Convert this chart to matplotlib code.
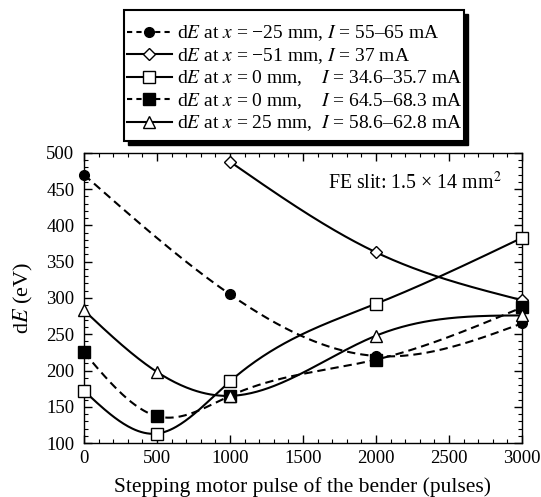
import numpy as np
import matplotlib
matplotlib.use("Agg")
import matplotlib.pyplot as plt
from matplotlib.ticker import MultipleLocator
from matplotlib.patches import Rectangle

plt.rcParams['font.family'] = ['Liberation Serif', 'DejaVu Serif']
plt.rcParams['mathtext.fontset'] = 'stix'

# data
x_m25 = [0, 1000, 2000, 3000]
y_m25 = [470, 305, 220, 265]
x_m51 = [1000, 2000, 3000]
y_m51 = [488, 363, 297]
x_0a = [0, 500, 1000, 2000, 3000]
y_0a = [172, 113, 185, 292, 383]
x_0b = [0, 500, 1000, 2000, 3000]
y_0b = [225, 137, 165, 215, 287]
x_25 = [0, 500, 1000, 2000, 3000]
y_25 = [283, 198, 165, 248, 276]

labels = [
    r'd$E$ at $x$ = −25 mm, $I$ = 55–65 mA',
    r'd$E$ at $x$ = −51 mm, $I$ = 37 mA',
    r'd$E$ at $x$ = 0 mm,    $I$ = 34.6–35.7 mA',
    r'd$E$ at $x$ = 0 mm,    $I$ = 64.5–68.3 mA',
    r'd$E$ at $x$ = 25 mm,  $I$ = 58.6–62.8 mA',
]


def natural_spline(x, y, n=300):
    x = np.asarray(x, float)
    y = np.asarray(y, float)
    m = len(x)
    h = np.diff(x)
    A = np.zeros((m, m))
    b = np.zeros(m)
    A[0, 0] = 1
    A[-1, -1] = 1
    for i in range(1, m - 1):
        A[i, i - 1] = h[i - 1]
        A[i, i] = 2 * (h[i - 1] + h[i])
        A[i, i + 1] = h[i]
        b[i] = 6 * ((y[i + 1] - y[i]) / h[i] - (y[i] - y[i - 1]) / h[i - 1])
    M = np.linalg.solve(A, b)
    xs = np.linspace(x[0], x[-1], n)
    ys = np.empty_like(xs)
    for k, xv in enumerate(xs):
        i = min(np.searchsorted(x, xv, side='right') - 1, m - 2)
        t1 = x[i + 1] - xv
        t0 = xv - x[i]
        ys[k] = (M[i] * t1 ** 3 / (6 * h[i]) + M[i + 1] * t0 ** 3 / (6 * h[i])
                 + (y[i] / h[i] - M[i] * h[i] / 6) * t1
                 + (y[i + 1] / h[i] - M[i + 1] * h[i] / 6) * t0)
    return xs, ys


W, H = 541, 497
fig = plt.figure(figsize=(W / 100, H / 100), dpi=100)
ax = fig.add_axes([84 / W, 1 - 443 / H, (522 - 84) / W, (443 - 153) / H])

series = [
    (x_m25, y_m25, '--', 'o', 'black', 7),
    (x_m51, y_m51, '-', 'D', 'white', 6),
    (x_0a, y_0a, '-', 's', 'white', 8),
    (x_0b, y_0b, '--', 's', 'black', 8),
    (x_25, y_25, '-', '^', 'white', 8),
]

handles = []
for (xs, ys, ls, mk, fc, ms), lab in zip(series, labels):
    sx, sy = natural_spline(xs, ys)
    line, = ax.plot(sx, sy, ls='-', color='black', lw=1.5, zorder=2)
    if ls == '--':
        line.set_dashes((4, 2.4))
    ax.plot(xs, ys, ls='none', marker=mk, ms=ms, mfc=fc, mec='black', mew=1.0, zorder=3, clip_on=False)
    h, = ax.plot([], [], ls='-', color='black', lw=1.5, marker=mk, ms=ms, mfc=fc, mec='black', mew=1.0)
    if ls == '--':
        h.set_dashes((2.5, 2))
    handles.append(h)

ax.set_xlim(0, 3000)
ax.set_ylim(100, 500)
ax.xaxis.set_major_locator(MultipleLocator(500))
ax.xaxis.set_minor_locator(MultipleLocator(100))
ax.yaxis.set_major_locator(MultipleLocator(50))
ax.yaxis.set_minor_locator(MultipleLocator(10))
ax.tick_params(which='both', direction='in', top=True, right=True, labelsize=13.5)
ax.tick_params(axis='y', which='major', pad=7)
ax.tick_params(axis='x', which='major', pad=5)
ax.tick_params(which='major', length=6, width=1)
ax.tick_params(which='minor', length=3, width=0.8)
for s in ax.spines.values():
    s.set_linewidth(1.0)

ax.set_xlabel('Stepping motor pulse of the bender (pulses)', fontsize=15.5, labelpad=7)
ax.set_ylabel(r'd$E$ (eV)', fontsize=16, labelpad=8)

ax.text(0.954, 0.895, r'FE slit: 1.5 × 14 mm$^2$', transform=ax.transAxes,
        ha='right', va='center', fontsize=14.3)

# legend frame with hard black shadow
bx0, by0, bx1, by1 = 124, 10, 464, 141
sh = 4
fig.patches.append(Rectangle(((bx0 + sh) / W, 1 - (by1 + sh) / H), (bx1 - bx0) / W, (by1 - by0) / H,
                             transform=fig.transFigure, facecolor='black', edgecolor='black', zorder=0))
fig.patches.append(Rectangle((bx0 / W, 1 - by1 / H), (bx1 - bx0) / W, (by1 - by0) / H,
                             transform=fig.transFigure, facecolor='white', edgecolor='black', lw=1.5, zorder=1))

leg = fig.legend(handles, labels, loc='upper left', bbox_to_anchor=(127 / W, 1 - 23.5 / H),
                 fontsize=14, frameon=False,
                 handlelength=2.3, handletextpad=0.25, labelspacing=0.14, borderpad=0,
                 borderaxespad=0)
leg.set_zorder(5)

fig.savefig('out.png', dpi=100)
